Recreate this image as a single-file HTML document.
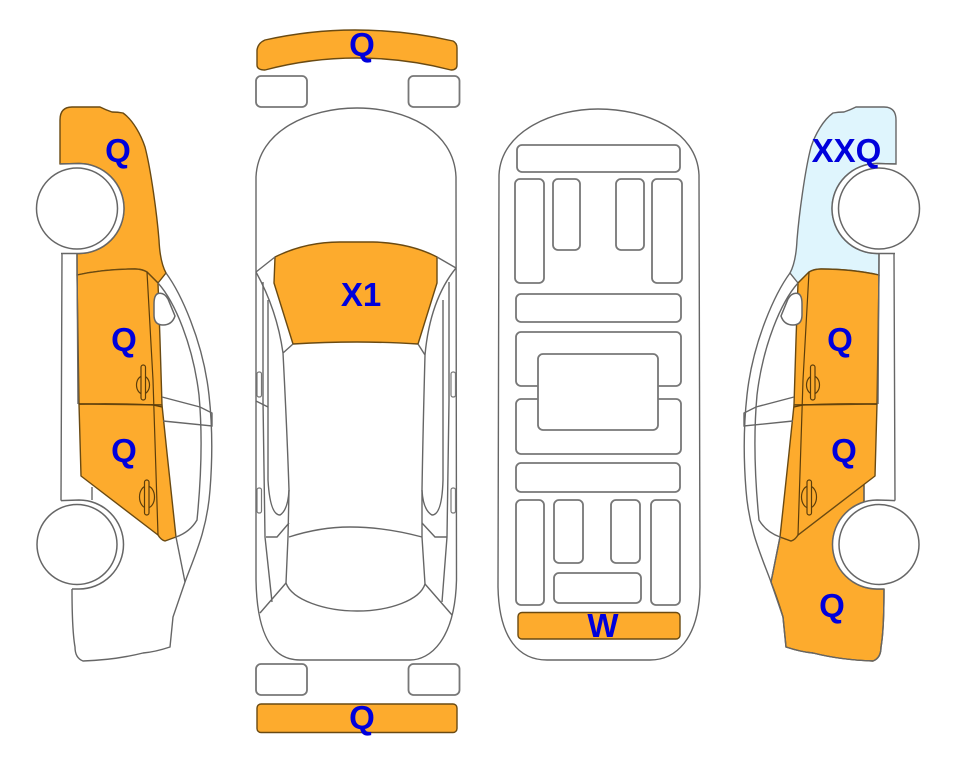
<!DOCTYPE html>
<html>
<head>
<meta charset="utf-8">
<style>
html,body{margin:0;padding:0;background:#fff;width:963px;height:768px;overflow:hidden}
svg{display:block}
text{font-family:"Liberation Sans",sans-serif;font-weight:bold;font-size:33px;fill:#0000dc;text-anchor:middle}
.o{fill:#fdab2d;stroke:#6a4a12;stroke-width:1.4;stroke-linejoin:round}
.g{fill:none;stroke:#666;stroke-width:1.4}
.r{fill:#fff;stroke:#777;stroke-width:1.8}
.w{fill:#fff;stroke:#666;stroke-width:1.5}
.h{fill:none;stroke:#5c3d0a;stroke-width:1.2}
</style>
</head>
<body>
<svg width="963" height="768" viewBox="0 0 963 768" xmlns="http://www.w3.org/2000/svg">
<rect width="963" height="768" fill="#fff"/>

<defs>
  <g id="handles">
    <ellipse class="h" cx="143" cy="385" rx="6.5" ry="9"/>
    <rect x="141" y="365" width="4.5" height="35" rx="2.2" fill="#fdab2d" stroke="#5c3d0a" stroke-width="1.2"/>
    <ellipse class="h" cx="147" cy="497" rx="7.5" ry="11"/>
    <rect x="144.5" y="480" width="4.5" height="35" rx="2.2" fill="#fdab2d" stroke="#5c3d0a" stroke-width="1.2"/>
  </g>
  <g id="carlines">
    <path class="g" d="M166,273 C180,292 203,340 209,395 Q214,440 210,490 C207,530 195,555 185,582 L173,617 L170,647 Q155,652 143,653 Q115,660 83,661 Q75,658 75,647 Q72,630 72,589"/>
    <path class="g" d="M158,283 C175,302 193,345 199,395 Q204,450 197,520 Q190,532 176,537 L185,582"/>
    <path class="g" d="M162,397 L200,407 L212,413 L212,426 L163,421"/>
    <path class="g" d="M62,253 L61,500.6 M77,253 L78,404 M92,487 L92,500"/>
    <path class="w" d="M158,293.500 Q164,292 168,299 L175,316 Q172,325 163,325 Q154,325 154,315 L154,304 Q154,295 158,293.500 Z"/>
    <path class="w" d="M60,164 L79,163.5 A45,45 0 0 1 79,253.5 L61,253.5" />
    <circle class="w" cx="77" cy="208.5" r="40.5"/>
    <path class="w" d="M61,500.6 L79,500 A44.5,44.5 0 0 1 79,589 L72,589"/>
    <circle class="w" cx="77" cy="544.5" r="40"/>
  </g>
</defs>

<!-- LEFT CAR -->
<g>
  <path class="o" d="M60,164 L60,120 Q60,107 72,107 L100,107 Q106,110 112,112 Q118,112 123,113 C133,120 141,135 145,147 C151,170 157,215 159,240 Q160,262 166,273 L158,283 L147,272 Q142,269 135,269 C115,269 95,271 77,275 L77,253.5 L79,253.5 A45,45 0 0 0 79,163.5 Z"/>
  <path class="o" d="M77,275 C95,271 115,269 135,269 Q142,269 147,272 L158,283 L160,340 L162,405 L79,404 Z"/>
  <path class="o" d="M79,404 L162,405 L167,453 L176,537 L165,541 Q161,540 158,535 L81,476 Z"/>
  <path class="h" d="M147,272 L153,380 L158,535 M79,404 Q120,403 153,405 L162,407"/>
  <use href="#carlines"/>
  <use href="#handles"/>
</g>

<!-- RIGHT CAR -->
<g transform="translate(956,0) scale(-1,1)">
  <path d="M60,164 L60,120 Q60,107 72,107 L100,107 Q106,110 112,112 Q118,112 123,113 C133,120 141,135 145,147 C151,170 157,215 159,240 Q160,262 166,273 L158,283 L147,272 Q142,269 135,269 C115,269 95,271 77,275 L77,253.5 L79,253.5 A45,45 0 0 0 79,163.5 Z" fill="#dff5fd" stroke="#666" stroke-width="1.4"/>
  <path class="o" d="M176,537 L185,582 Q178,600 173,617 L170,647 Q155,652 143,653 Q115,660 83,661 Q75,658 75,647 Q72,630 72,589 L79,589 A44.5,44.5 0 0 0 92,502 L92,484 L158,535 L165,541 Z"/>
  <path class="o" d="M77,275 C95,271 115,269 135,269 Q142,269 147,272 L158,283 L160,340 L162,405 L79,404 Z"/>
  <path class="o" d="M79,404 L162,405 L167,453 L176,537 L165,541 Q161,540 158,535 L81,476 Z"/>
  <path class="h" d="M147,272 L153,380 L158,535 M79,404 Q120,403 153,405 L162,407"/>
  <use href="#carlines"/>
  <use href="#handles"/>
</g>

<!-- TOP VIEW -->
<path class="o" d="M257,50 Q258,43 265,40 Q310,30 355,30 Q405,30 453,41 Q457,43 457,48 L457,65 Q457,70 451,70 Q405,58 357,58 Q310,58 265,70 Q257,70 257,65 Z"/>
<rect class="r" x="256" y="76" width="51" height="31" rx="5"/>
<rect class="r" x="408.500" y="76" width="51" height="31" rx="5"/>
<path class="o" d="M275,257 Q305,242 340,242 L373,242 Q410,243 437,257 L437,283 L418,344 Q385,342 357,342 Q325,342 293,344 L274,283 Z"/>
<path class="g" d="M256,177 C258,130 310,108 357,108 C405,108 454,130 456,177 L456.500,580 C455,640 430,660 410,660 L300,660 C275,660 257,640 256,580 Z"/>
<path class="g" d="M256,272 L275,257 M456,268 L437,257"/>
<path class="g" d="M256,272 Q277,310 283,353 L293,344 M283,353 Q287,430 289,490 L288,537 L286,583 M425,584 L422,537 L422,490 Q423,430 425,355 L418,344 M425,355 Q430,300 456,268"/>
<path class="g" d="M286,583 C292,600 325,611 357,611 C390,611 420,600 425,584"/>
<path class="g" d="M263,282 L263,401 L265,537 L272,602 M268,300 L268,480 Q270,515 280,515 Q288,510 289,490 M449,282 L449,401 L447,537 L442,602 M443,300 L443,480 Q442,515 432,515 Q423,510 422,490"/>
<path class="g" d="M289,537 Q320,527 350,527 Q385,527 422,537 M266,537 L277,537 L289,523 M447,537 L435,537 L422,523 M286,583 L260,613 M425,584 L452,615 M256,401 L268,407"/>
<rect class="r" x="257" y="372" width="4.500" height="25" rx="2" style="stroke-width:1.200"/>
<rect class="r" x="451" y="372" width="4.500" height="25" rx="2" style="stroke-width:1.200"/>
<rect class="r" x="257" y="488" width="4.500" height="25" rx="2" style="stroke-width:1.200"/>
<rect class="r" x="451" y="488" width="4.500" height="25" rx="2" style="stroke-width:1.200"/>
<rect class="r" x="256" y="664" width="51" height="31" rx="5"/>
<rect class="r" x="408.500" y="664" width="51" height="31" rx="5"/>
<rect class="o" x="257" y="704" width="200" height="28.500" rx="4"/>

<!-- UNDERBODY -->
<path class="g" d="M499,175 C501,130 555,109 598,109 C645,109 697,130 699,175 L700,587 C699,640 675,660 650,660 L547,660 C520,660 499,640 498,587 Z"/>
<rect class="r" x="517" y="145" width="163" height="27" rx="5"/>
<rect class="r" x="515" y="179" width="29" height="104" rx="5"/>
<rect class="r" x="553" y="179" width="27" height="71" rx="5"/>
<rect class="r" x="616" y="179" width="28" height="71" rx="5"/>
<rect class="r" x="652" y="179" width="30" height="104" rx="5"/>
<rect class="r" x="516" y="294" width="165" height="28" rx="5"/>
<rect class="r" x="516" y="332" width="165" height="54" rx="5"/>
<rect class="r" x="516" y="399" width="165" height="55" rx="5"/>
<rect class="r" x="538" y="354" width="120" height="76" rx="5"/>
<rect class="r" x="516" y="463" width="164" height="29" rx="5"/>
<rect class="r" x="516" y="500" width="28" height="105" rx="5"/>
<rect class="r" x="554" y="500" width="29" height="63" rx="5"/>
<rect class="r" x="611" y="500" width="29" height="63" rx="5"/>
<rect class="r" x="651" y="500" width="29" height="105" rx="5"/>
<rect class="r" x="554" y="573" width="87" height="30" rx="5"/>
<rect class="o" x="518" y="612.500" width="162" height="26.500" rx="4"/>

<!-- LABELS -->
<text x="118" y="162">Q</text>
<text x="124" y="351">Q</text>
<text x="124" y="462">Q</text>
<text x="362" y="56">Q</text>
<text x="361" y="306">X1</text>
<text x="362" y="729">Q</text>
<text x="603" y="637">W</text>
<text x="846.500" y="162">XXQ</text>
<text x="840" y="351">Q</text>
<text x="844" y="462">Q</text>
<text x="832" y="617">Q</text>
</svg>
</body>
</html>
